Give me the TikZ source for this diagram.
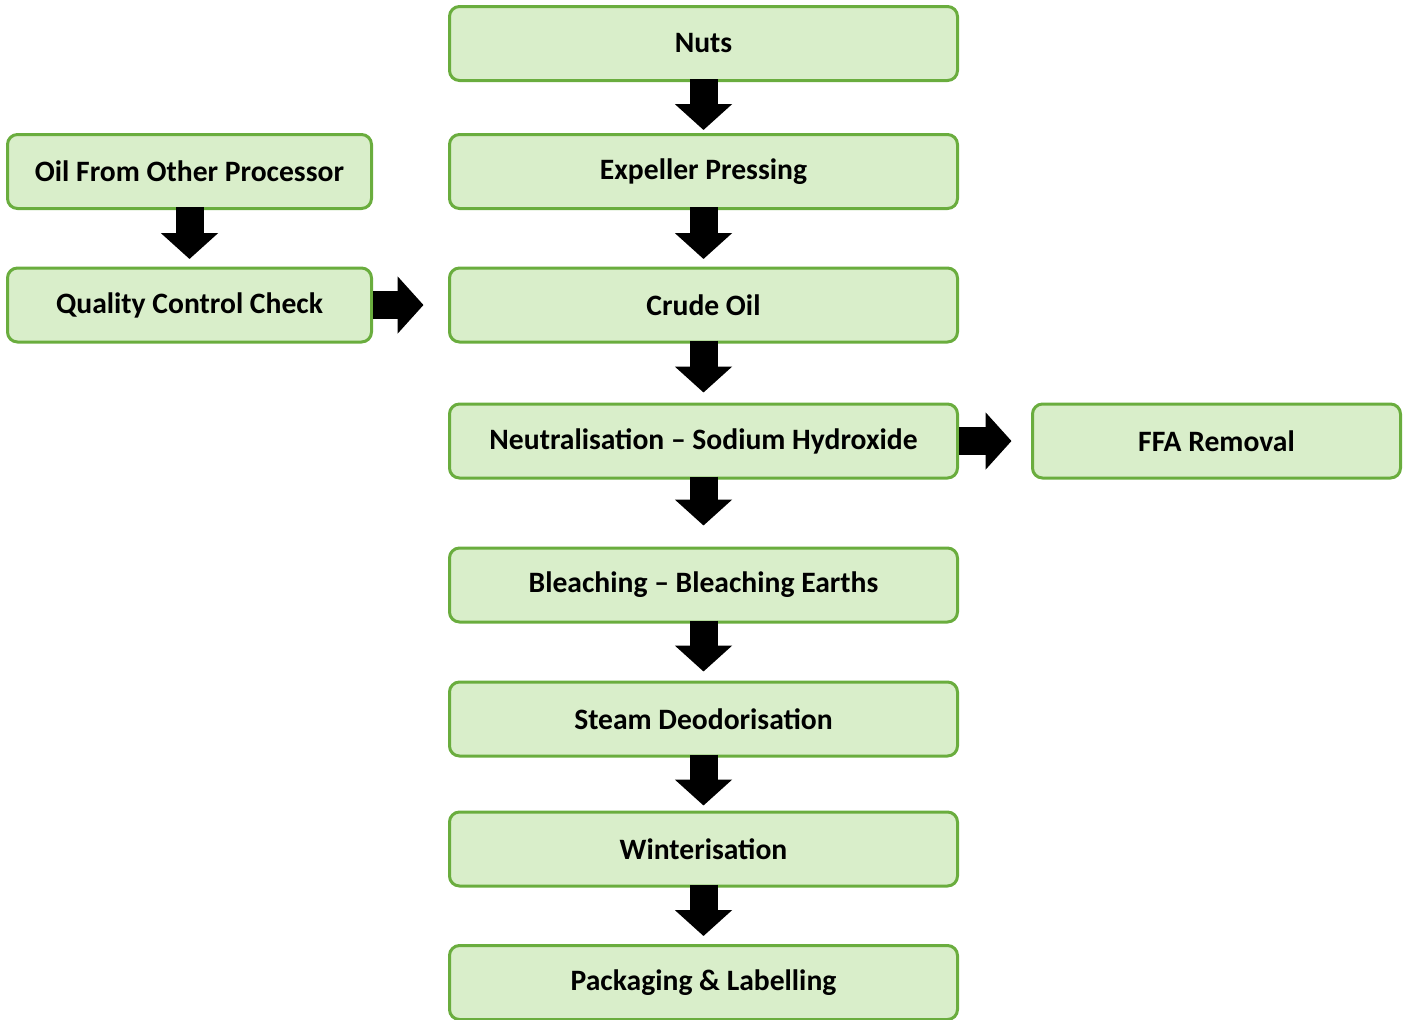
\documentclass[tikz,border=0pt]{standalone}
\usepackage{fontspec}
\setmainfont{Carlito}
\usetikzlibrary{arrows.meta}
\definecolor{boxgreen}{RGB}{106,173,62}
\definecolor{boxfill}{RGB}{217,238,202}
\begin{document}
\begin{tikzpicture}[x=0.5pt,y=-0.5pt,
  stepbox/.style={draw=boxgreen, fill=boxfill, line width=1.5pt, rounded corners=5pt,
    minimum width=254pt, minimum height=37pt, inner sep=0pt, font=\fontsize{14.8}{17}\selectfont\bfseries},
  flow/.style={draw, line width=14pt, shorten <=-1.5pt, -{Triangle[width=28pt,length=13pt]}}]
\useasboundingbox (0,0) rectangle (1408,1019);

\node[stepbox] (nuts) at (703.5,43.5) {Nuts};
\node[stepbox] (press) at (703.5,171.5) {Expeller Pressing};
\node[stepbox] (crude) at (703.5,305) {Crude Oil};
\node[stepbox] (neutral) at (703.5,441) {Neutralisation – Sodium Hydroxide};
\node[stepbox] (bleach) at (703.5,585) {Bleaching – Bleaching Earths};
\node[stepbox] (steam) at (703.5,719) {Steam Deodorisation};
\node[stepbox] (winter) at (703.5,849) {Winterisation};
\node[stepbox] (pack) at (703.5,982.5) {Packaging \& Labelling};

\node[stepbox, minimum width=182pt] (other) at (189.5,171.5) {Oil From Other Processor};
\node[stepbox, minimum width=182pt] (qc) at (189.5,305) {Quality Control Check};
\node[stepbox, minimum width=184pt] (ffa) at (1216.5,441) {FFA Removal};

\path[flow, shorten >=1.5pt] (nuts) -- (press);
\path[flow, shorten >=3.75pt] (press) -- (crude);
\path[flow, shorten >=5pt] (crude) -- (neutral);
\path[flow, shorten >=10.5pt] (neutral) -- (bleach);
\path[flow, shorten >=4.5pt] (bleach) -- (steam);
\path[flow, shorten >=2.5pt] (steam) -- (winter);
\path[flow, shorten >=4pt] (winter) -- (pack);
\path[flow, shorten >=3.75pt] (other) -- (qc);
\path[flow, shorten <=0pt, shorten >=12.25pt] (qc) -- (crude);
\path[flow, shorten <=0pt, shorten >=9.75pt] (neutral) -- (ffa);
\end{tikzpicture}
\end{document}
